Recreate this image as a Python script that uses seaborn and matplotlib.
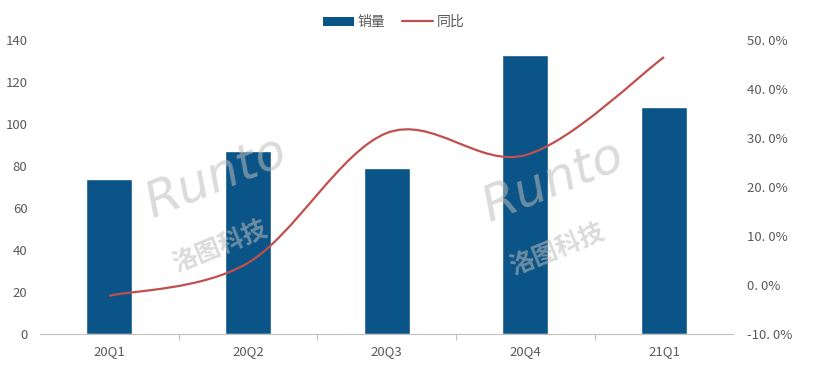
import matplotlib
matplotlib.use('Agg')
import matplotlib.pyplot as plt
from matplotlib.path import Path
from matplotlib.patches import PathPatch, Patch
from matplotlib.lines import Line2D
from matplotlib.ticker import FuncFormatter
import seaborn as sns
import numpy as np
import pandas as pd

quarters = ['20Q1', '20Q2', '20Q3', '20Q4', '21Q1']
sales = [74, 87, 79, 133, 108]
yoy = [-2.2, 4.5, 31.0, 26.5, 46.5]

bar_color = '#0b5487'
line_color = '#c0504d'
text_color = '#595959'

sns.set_theme(style='white')
plt.rcParams['font.family'] = ['Noto Sans CJK SC', 'DejaVu Sans']

df = pd.DataFrame({'quarter': quarters, 'sales': sales})

fig = plt.figure(figsize=(8.14, 3.68), dpi=100)
ax = fig.add_axes([0.049, 0.0924, 0.852, 0.799])
sns.barplot(data=df, x='quarter', y='sales', color=bar_color, width=0.33,
            saturation=1, ax=ax)
ax.set_xlim(-0.5, len(quarters) - 0.5)
ax.set_ylim(0, 140)
ax.set_yticks(range(0, 141, 20))
ax.set_xlabel('')
ax.set_ylabel('')
for s in ['top', 'right', 'left']:
    ax.spines[s].set_visible(False)
ax.spines['bottom'].set_color('#bfbfbf')
ax.spines['bottom'].set_linewidth(0.8)
ax.tick_params(axis='y', length=0, labelsize=9.5, labelcolor=text_color, pad=9)
ax.tick_params(axis='x', length=0, labelsize=9.5, labelcolor=text_color, pad=8)
# category boundary ticks on the x axis
ax.set_xticks(np.arange(0.5, len(quarters) - 0.5), minor=True)
ax.tick_params(axis='x', which='minor', bottom=True, length=4, width=0.8,
               color='#bfbfbf', direction='out')

# smoothed yoy line on the secondary axis
ax2 = ax.twinx()
ax2.set_ylim(-10, 50)
ax2.set_yticks(range(-10, 51, 10))
ax2.yaxis.set_major_formatter(FuncFormatter(lambda v, p: f'{v:.1f}%'.replace('.', '. ')))
ax2.tick_params(axis='y', length=0, labelsize=9.5, labelcolor=text_color, pad=10)
for s in ax2.spines.values():
    s.set_visible(False)
ax2.grid(False)

pts = np.column_stack([np.arange(len(yoy)), yoy]).astype(float)
ext = np.vstack([pts[0], pts, pts[-1]])
verts = [tuple(pts[0])]
codes = [Path.MOVETO]
for i in range(len(pts) - 1):
    p0, p1, p2, p3 = ext[i], ext[i + 1], ext[i + 2], ext[i + 3]
    verts += [tuple(p1 + (p2 - p0) / 6), tuple(p2 - (p3 - p1) / 6), tuple(p2)]
    codes += [Path.CURVE4] * 3
ax2.add_patch(PathPatch(Path(verts, codes), facecolor='none',
                        edgecolor=line_color, linewidth=1.6))

handles = [Patch(facecolor=bar_color, edgecolor='none'),
           Line2D([0], [0], color=line_color, linewidth=1.6)]
fig.legend(handles, ['销量', '同比'], loc='center', bbox_to_anchor=(0.484, 0.94),
           ncol=2, frameon=False, fontsize=10, handlelength=2.2,
           handleheight=0.6, columnspacing=1.2, handletextpad=0.3,
           labelcolor=text_color)

# watermarks
for cx, cy in [(0.265, 0.47), (0.68, 0.46)]:
    fig.text(cx, cy + 0.05, 'Runto', fontsize=36, style='italic',
             family=['DejaVu Sans'], color='#bdbdbd', alpha=0.55,
             rotation=22, ha='center', va='center')
    fig.text(cx + 0.005, cy - 0.14, '洛图科技', fontsize=18, weight='bold',
             color='#bdbdbd', alpha=0.55, rotation=22, ha='center', va='center')

fig.savefig('out.png', dpi=100)
